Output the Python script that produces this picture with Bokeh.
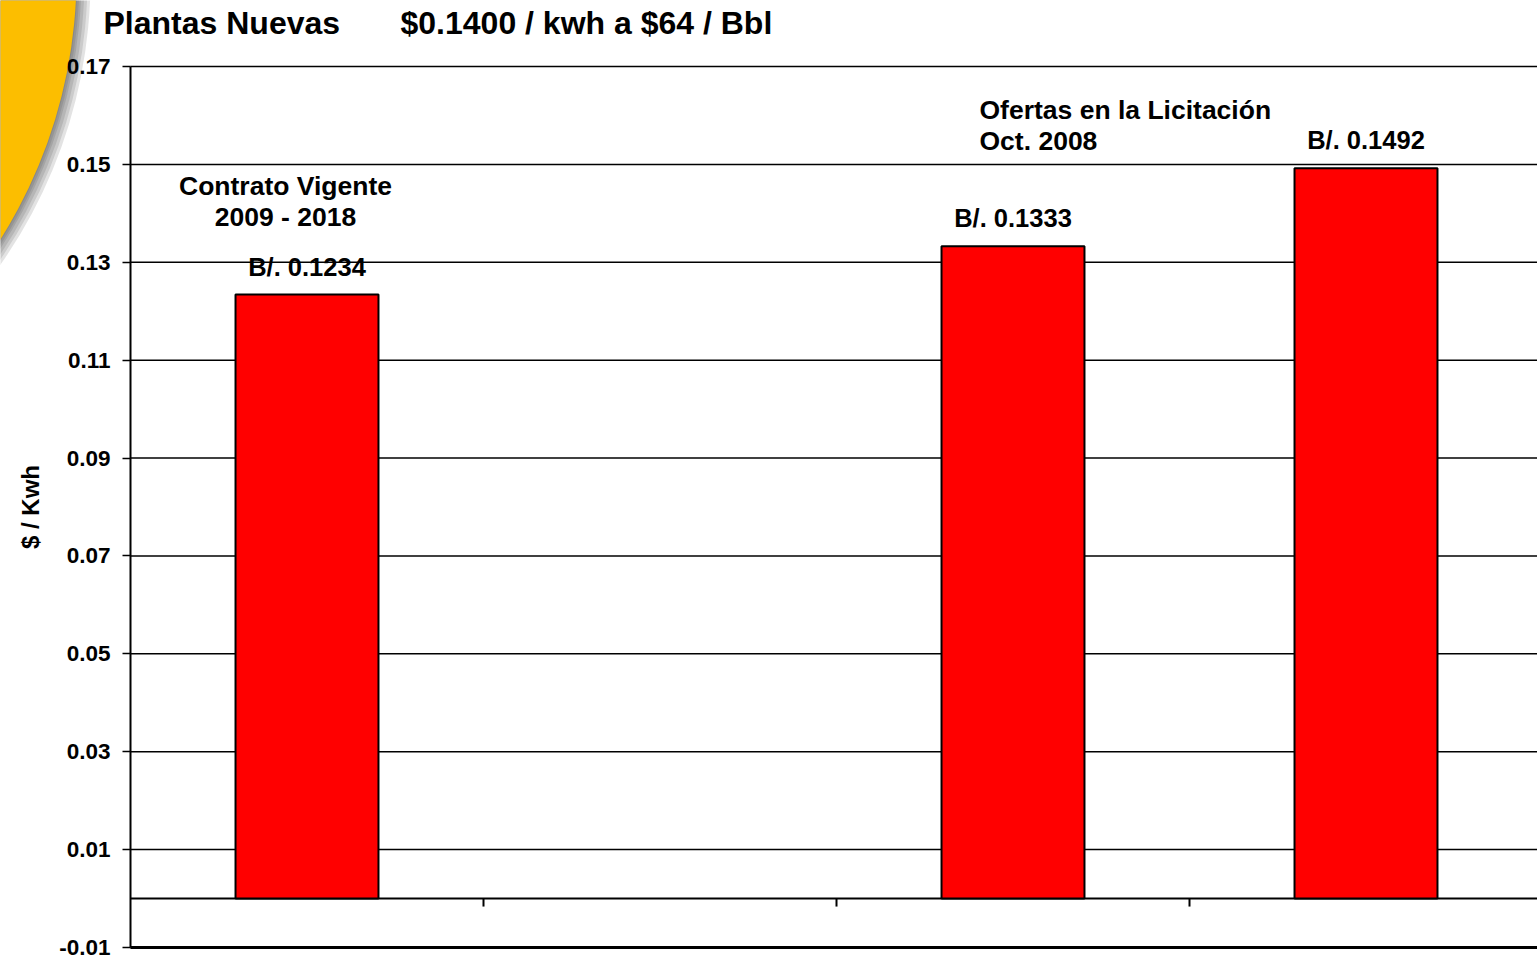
from bokeh.plotting import figure
from bokeh.models import Range1d, FixedTicker, LinearAxis, NumeralTickFormatter
from bokeh.core.properties import value
from bokeh.embed import file_html
from bokeh.resources import INLINE

# ---------------- data ----------------
categories = ["Contrato Vigente", "", "Oferta 1", "Oferta 2"]
bar_positions = [1, 3, 4]
bar_values = [0.1234, 0.1333, 0.1492]
bar_labels = ["B/. 0.1234", "B/. 0.1333", "B/. 0.1492"]
y_ticks = [-0.01, 0.01, 0.03, 0.05, 0.07, 0.09, 0.11, 0.13, 0.15, 0.17]
title_parts = ["Plantas Nuevas", "$0.1400 / kwh a $64 / Bbl"]
note_contrato = ["Contrato Vigente", "2009 - 2018"]
note_ofertas = ["Ofertas en la Licitación", "Oct. 2008"]
y_label = "$ / Kwh"

# ---------------- layout ----------------
FONT = "Liberation Sans"
W, H = 1537, 961
PL, PT, PB = 130, 66, 947       # plot-area left / top / bottom on the page (px)
CAT_PX = 353.0
Y0, Y1 = -0.01, 0.17
ppu = (PB - PT) / (Y1 - Y0)
x_start = 0.5 - PL / CAT_PX
x_end = 0.5 + (W - PL) / CAT_PX
y_start = Y0 - (H - PB) / ppu
y_end = Y1 + PT / ppu
TXT_SHIFT = 10

def px_x(px):
    return 0.5 + (px - PL) / CAT_PX

def px_y(py):
    return Y1 - (py - PT) / ppu

p = figure(width=W, height=H, output_backend="svg", toolbar_location=None,
           x_range=Range1d(x_start, x_end), y_range=Range1d(y_start, y_end),
           x_axis_location=None, y_axis_location=None, min_border=0,
           outline_line_color=None, background_fill_color="white",
           border_fill_color="white")
p.grid.visible = False

# decorative orange corner with soft shadow
R = 496
cx, cy = px_x(-420), px_y(-25)
for dx in [14, 11, 8, 5, 3, 1]:
    p.circle(x=[px_x(-420 + dx)], y=[px_y(-25 + dx * 0.3)], radius=R, radius_units="screen",
             fill_color="#404040", fill_alpha=0.15, line_color=None)
p.circle(x=[cx], y=[cy], radius=R, radius_units="screen",
         fill_color="#FCBE00", line_color=None)

# horizontal grid lines inside the plot area
n = len(y_ticks)
p.segment(x0=[0.5] * n, y0=y_ticks, x1=[x_end] * n, y1=y_ticks,
          line_color="black", line_width=1.5)

# zero line with category separators
p.segment(x0=[0.5], y0=[0], x1=[x_end], y1=[0], line_color="black", line_width=2)
sep = [i + 0.5 for i in range(1, len(categories))]
p.segment(x0=sep, y0=[0] * len(sep), x1=sep, y1=[-8 / ppu] * len(sep),
          line_color="black", line_width=2)

# bars
p.vbar(x=bar_positions, top=bar_values, bottom=0, width=0.405,
       fill_color="#FF0000", line_color="black", line_width=2)

# y axis at the plot-area left edge
yaxis = LinearAxis(fixed_location=0.5, bounds=(Y0, Y1),
                   ticker=FixedTicker(ticks=y_ticks),
                   formatter=NumeralTickFormatter(format="0.00"))
yaxis.axis_line_color = "black"
yaxis.axis_line_width = 2
yaxis.major_tick_line_color = "black"
yaxis.major_tick_line_width = 1.5
yaxis.major_tick_out = 8
yaxis.major_tick_in = 0
yaxis.minor_tick_line_color = None
yaxis.major_label_text_font = FONT
yaxis.major_label_text_font_size = "22.5px"
yaxis.major_label_text_font_style = "bold"
yaxis.major_label_text_color = "black"
yaxis.major_label_standoff = 12
yaxis.axis_label = y_label
yaxis.axis_label_text_font = FONT
yaxis.axis_label_text_font_size = "24px"
yaxis.axis_label_text_font_style = "bold"
yaxis.axis_label_text_color = "black"
yaxis.axis_label_standoff = 12
p.add_layout(yaxis, "left")

# bottom line of the plot area
xaxis = LinearAxis(fixed_location=Y0, bounds=(0.5, x_end), ticker=FixedTicker(ticks=[]))
xaxis.axis_line_color = "black"
xaxis.axis_line_width = 3
xaxis.major_tick_line_color = None
xaxis.minor_tick_line_color = None
p.add_layout(xaxis, "below")

# title
p.text(x=[px_x(103), px_x(400)], y=[px_y(34 - 12)] * 2, text=title_parts,
       text_align="left", text_baseline="alphabetic",
       text_font=value(FONT), text_font_size="32px", text_font_style="bold",
       text_color="black")

# value labels
p.text(x=bar_positions, y=[v + (19 + TXT_SHIFT - 1) / ppu for v in bar_values], text=bar_labels,
       text_align="center", text_baseline="alphabetic",
       text_font=value(FONT), text_font_size="25.5px", text_font_style="bold",
       text_color="black")

# notes
p.text(x=[px_x(285)] * 2, y=[px_y(196 - TXT_SHIFT - 1), px_y(227 - TXT_SHIFT - 1)], text=note_contrato,
       text_align="center", text_baseline="alphabetic",
       text_font=value(FONT), text_font_size="26.5px", text_font_style="bold",
       text_color="black")
p.text(x=[px_x(979)] * 2, y=[px_y(119 - TXT_SHIFT), px_y(150 - TXT_SHIFT)], text=note_ofertas,
       text_align="left", text_baseline="alphabetic",
       text_font=value(FONT), text_font_size="26.5px", text_font_style="bold",
       text_color="black")

open("out.html", "w").write(file_html(p, INLINE))
